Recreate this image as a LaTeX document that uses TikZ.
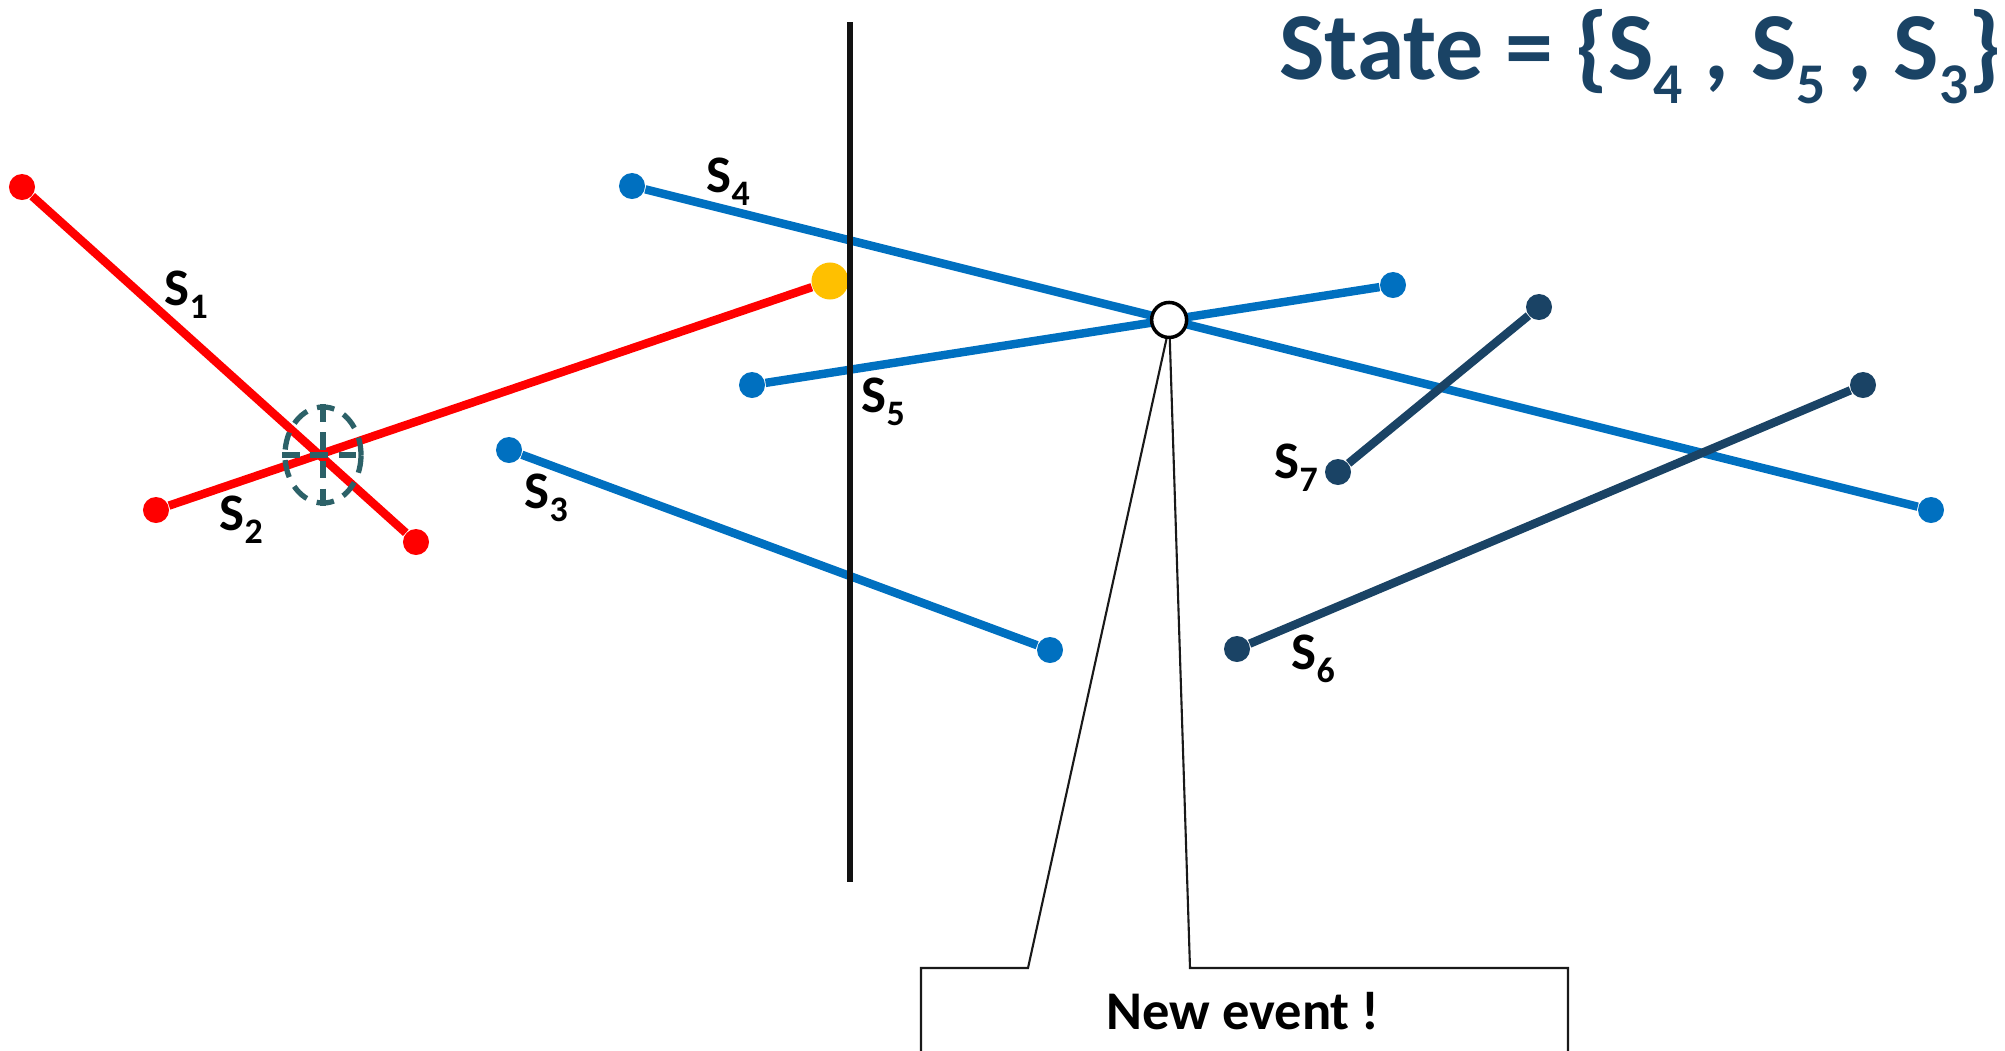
\documentclass[tikz,border=0pt]{standalone}
\usepackage{fontspec}
\setmainfont{Carlito}
\usepackage{graphicx}
\usepackage{tikz}
\usetikzlibrary{shapes.geometric}

\definecolor{segred}{HTML}{FF0000}
\definecolor{segblue}{HTML}{0070C0}
\definecolor{segnavy}{HTML}{1A4365}
\definecolor{hitteal}{HTML}{2C6168}
\definecolor{hityellow}{HTML}{FFC000}

\newcommand{\segsub}[2][0.68]{\raisebox{-0.26em}{\scalebox{#1}{#2}}}

\begin{document}
\begin{tikzpicture}[x=0.01cm, y=-0.01cm,
  seg/.style={line width=2.4pt},
  dot/.style={circle, fill, inner sep=0pt, minimum size=0.26cm},
  lbl/.style={font=\fontsize{15}{17}\selectfont\bfseries, inner sep=0pt, anchor=base west},
  hit/.style={hitteal, line width=1.5pt, dash pattern=on 5pt off 3pt}]
  \useasboundingbox (0,0) rectangle (2005,1051);
  \clip (0,0) rectangle (2005,1051);
  % Segment end points
  \node[dot, segred] (s1a) at (22,187) {};
  \node[dot, segred] (s1b) at (416,542) {};
  \node[dot, segred] (s2a) at (156,510) {};
  \node[dot, segblue] (s3a) at (509,450) {};
  \node[dot, segblue] (s3b) at (1050,650) {};
  \node[dot, segblue] (s4a) at (632,186) {};
  \node[dot, segblue] (s4b) at (1931,510) {};
  \node[dot, segblue] (s5a) at (752,385) {};
  \node[dot, segblue] (s5b) at (1393,285) {};
  \node[dot, segnavy] (s6a) at (1237,649) {};
  \node[dot, segnavy] (s6b) at (1863,385) {};
  \node[dot, segnavy] (s7a) at (1338,472) {};
  \node[dot, segnavy] (s7b) at (1539,307) {};
  \node[dot, hityellow, minimum size=0.37cm] (s2b) at (830,281) {};
  % Segments
  \draw[seg, segred] (s1a) -- (s1b);
  \draw[seg, segred] (s2a) -- (s2b);
  \draw[seg, segblue] (s3a) -- (s3b);
  \draw[seg, segblue] (s4a) -- (s4b);
  \draw[seg, segblue] (s5a) -- (s5b);
  \draw[seg, segnavy] (s6a) -- (s6b);
  \draw[seg, segnavy] (s7a) -- (s7b);
  % Labels
  \node[lbl] (l1) at (164,305) {S\segsub{1}};
  \node[lbl] (l2) at (219,530) {S\segsub{2}};
  \node[lbl] (l3) at (524,508) {S\segsub{3}};
  \node[lbl] (l4) at (706,192) {S\segsub{4}};
  \node[lbl] (l5) at (861,412) {S\segsub{5}};
  \node[lbl] (l6) at (1291,669) {S\segsub{6}};
  \node[lbl] (l7) at (1274,478) {S\segsub{7}};
  % Sweep line
  \coordinate (swtop) at (850,22);
  \coordinate (swbot) at (850,882);
  \draw[line width=1.8pt, black!93] (swtop) -- (swbot);
  % Found intersection
  \node[ellipse, draw, hit, minimum width=0.76cm, minimum height=0.96cm, inner sep=0pt]
    (cross) at (323,455) {};
  \draw[hit] (cross.north) -- (cross.south);
  \draw[hit] (cross.west) -- (cross.east);
  % Event point
  \node[circle, draw, fill=white, line width=1pt, inner sep=0pt, minimum size=0.35cm]
    (ev) at (intersection of s4a--s4b and s5a--s5b) {};
  % Callout
  \draw[line width=0.6pt, black!90] (921,1070) |- (1028,968) -- (ev.262)
    (ev.272) -- (1190,968) -| (1568,1070);
  \node[font=\fontsize{15.5}{18}\selectfont\bfseries, inner sep=0pt, anchor=base]
    (msg) at (1243,1029) {New event !};
  % Status
  \node[font=\fontsize{27.3}{31}\selectfont\bfseries, text=segnavy, inner sep=0pt, anchor=base east]
    (state) at (2002,79)
    {State = \{S\segsub[0.6]{4} , S\segsub[0.6]{5} , S\segsub[0.6]{3}\}};
\end{tikzpicture}
\end{document}
